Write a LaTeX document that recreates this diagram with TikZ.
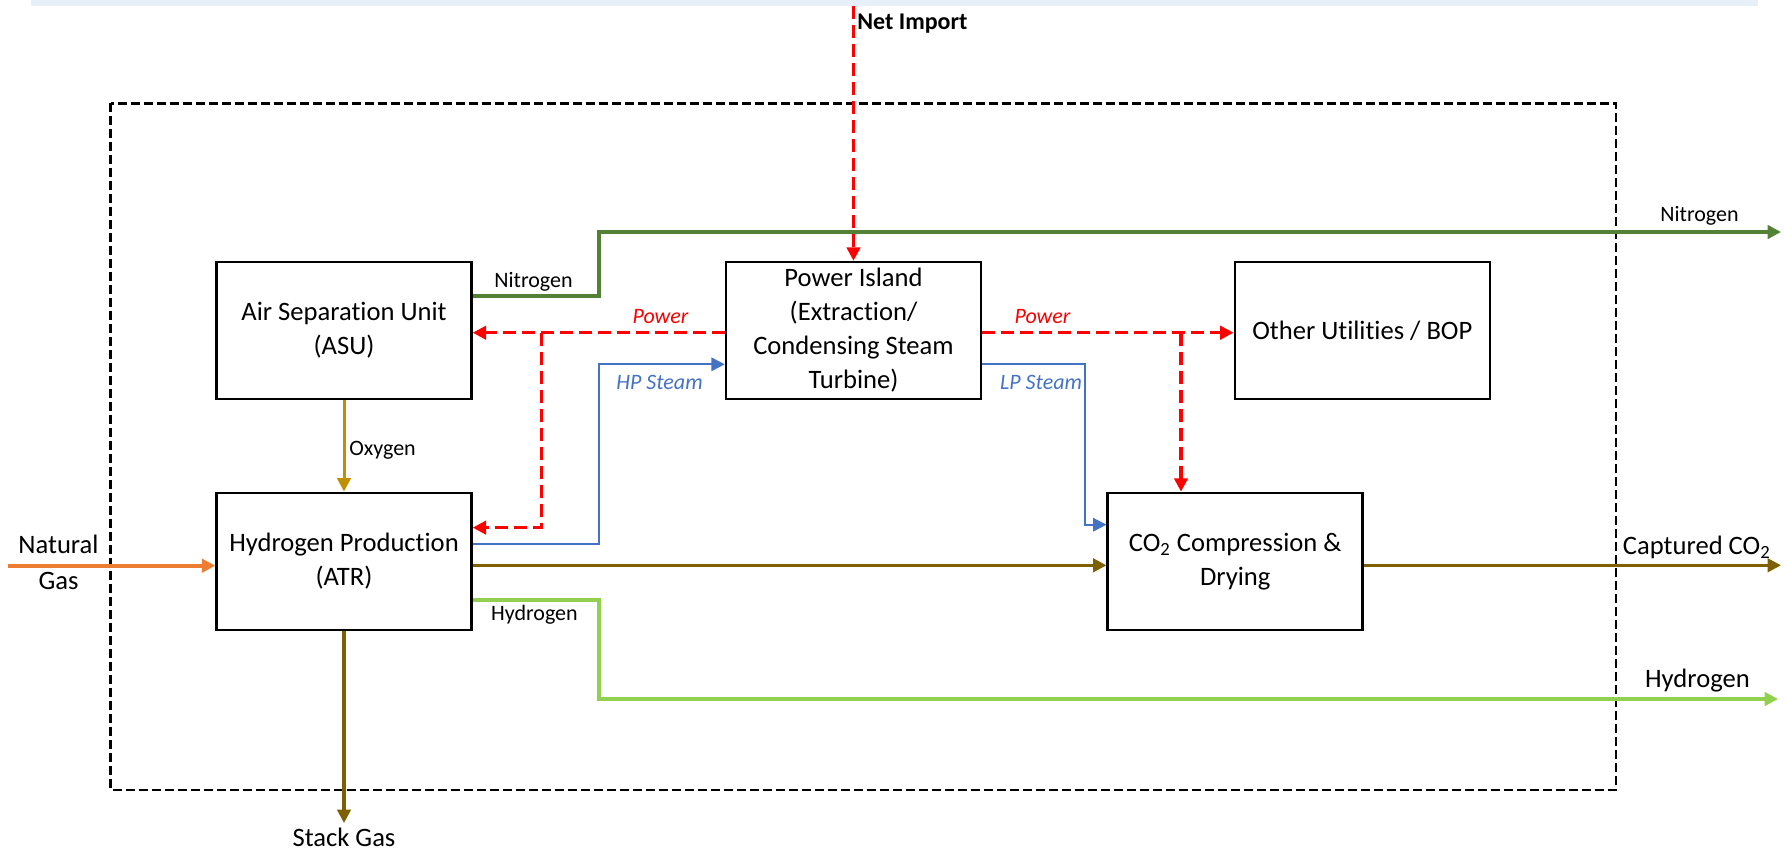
\documentclass[tikz,border=0pt]{standalone}
\usepackage{fontspec}
\setmainfont{Carlito}[Ligatures=NoCommon]
\usetikzlibrary{arrows.meta}
\definecolor{ngreen}{HTML}{548235}
\definecolor{oxcol}{HTML}{BF9000}
\definecolor{ngcol}{HTML}{ED7D31}
\definecolor{cocol}{HTML}{7F6000}
\definecolor{hcol}{HTML}{92D050}
\definecolor{stcol}{HTML}{4472C4}
\definecolor{pwcol}{HTML}{FF0000}
\definecolor{bandcol}{HTML}{E7EFF9}
\tikzset{
  unitbox/.style={draw=black, line width=1.25pt, minimum width=127.5pt, minimum height=68.5pt,
    inner sep=0pt, align=center, font=\fontsize{13.3}{17}\selectfont},
  tipA/.style={-{Triangle[length=6.7pt,width=6.7pt]}},
  nitro/.style={tipA, draw=ngreen, line width=1.75pt},
  oxy/.style={tipA, draw=oxcol, line width=1.5pt},
  natgas/.style={tipA, draw=ngcol, line width=2.2pt},
  cotwo/.style={tipA, draw=cocol, line width=1.6pt},
  hydro/.style={tipA, draw=hcol, line width=1.8pt},
  steam/.style={tipA, draw=stcol, line width=1pt},
  power/.style={tipA, draw=pwcol, line width=1.6pt, dash pattern=on 6.5pt off 3pt},
  boundary/.style={draw=black, line width=1.2pt, dash pattern=on 4.5pt off 2pt},
  smalllbl/.style={font=\fontsize{11}{13}\selectfont, inner sep=0pt},
  biglbl/.style={font=\fontsize{13.3}{16}\selectfont, inner sep=0pt},
}
\begin{document}
\begin{tikzpicture}[x=0.5pt,y=-0.5pt]
\useasboundingbox (0,0) rectangle (1787,851);
\fill[bandcol] (31,0) rectangle (1758,5.7);
\draw[boundary] (110.5,103.3) rectangle (1616.2,790);

% units
\node[unitbox] (asu) at (344,330.5) {Air Separation Unit\\(ASU)};
\node[unitbox] (pi) at (853.5,330.5) {Power Island\\(Extraction/\\Condensing Steam\\Turbine)};
\node[unitbox] (bop) at (1362.3,330.5) {Other Utilities / BOP};
\node[unitbox] (atr) at (344,561.3) {Hydrogen Production\\(ATR)};
\node[unitbox] (co2) at (1235.2,561.4) {CO\textsubscript{2} Compression \&\\Drying};

% free ends
\coordinate (netin) at (853.5,6);
\coordinate (n2out) at (1781,232);
\coordinate (coout) at (1781,565.3);
\coordinate (h2out) at (1778,699);
\coordinate (ngin) at (8,565.7);
\coordinate (stack) at (344,823);

% nitrogen
\draw[nitro] (asu.east |- 0,296) -- (599,296) -- (599,232) -- (n2out);
% oxygen
\draw[oxy] (asu.south) -- (atr.north);
% natural gas
\draw[natgas] (ngin) -- (atr.west |- ngin);
% CO2 stream
\draw[cotwo] (atr.east |- 0,565.3) -- (co2.west |- 0,565.3);
\draw[cotwo] (co2.east |- coout) -- (coout);
\draw[cotwo] (atr.south) -- (stack);
% hydrogen
\draw[hydro] (atr.east |- 0,599.8) -- (599,599.8) -- (599,699) -- (h2out);
% steam
\draw[steam] (atr.east |- 0,544.3) -- (599,544.3) -- (599,364.3) -- (pi.west |- 0,364.3);
\draw[steam] (pi.east |- 0,364.3) -- (1085,364.3) -- (1085,524.7) -- (co2.west |- 0,524.7);
% power
\draw[power] (netin) -- (pi.north);
\draw[power] (pi.west |- 0,332.7) -- (asu.east |- 0,332.7);
\draw[power] (541.5,332.7) -- (541.5,527.6) -- (atr.east |- 0,527.6);
\draw[power] (pi.east |- 0,332.7) -- (bop.west |- 0,332.7);
\draw[power] (1181,332.7) -- (co2.north -| 1181,0);

% labels
\node[smalllbl, anchor=base] (lnit) at (533.5,287) {Nitrogen};
\node[smalllbl, anchor=base, text=pwcol, font=\fontsize{11}{13}\selectfont\itshape] (lpw1) at (660.5,323.3) {Power};
\node[smalllbl, anchor=base, text=pwcol, font=\fontsize{11}{13}\selectfont\itshape] (lpw2) at (1042.5,323.3) {Power};
\node[smalllbl, anchor=base, text=stcol, font=\fontsize{11}{13}\selectfont\itshape] (lhp) at (659.5,389.3) {HP Steam};
\node[smalllbl, anchor=base, text=stcol, font=\fontsize{11}{13}\selectfont\itshape] (llp) at (1041,389.3) {LP Steam};
\node[smalllbl, anchor=base west] (lox) at (349,455.3) {Oxygen};
\node[smalllbl, anchor=base west] (lh2s) at (490.7,620) {Hydrogen};
\node[smalllbl, anchor=base west, font=\fontsize{12}{14}\selectfont\bfseries] (lnet) at (857,29.3) {Net Import};
\node[smalllbl, anchor=base west] (lnit2) at (1660,221.7) {Nitrogen};
\node[biglbl, anchor=base west] (lco) at (1622.5,554.3) {Captured CO\textsubscript{2}};
\node[biglbl, anchor=base west] (lh2) at (1644.7,687.7) {Hydrogen};
\node[biglbl, anchor=base] (lng1) at (58.5,553.3) {Natural};
\node[biglbl, anchor=base] (lng2) at (58.5,589.3) {Gas};
\node[biglbl, anchor=base] (lstack) at (344,846) {Stack Gas};
\end{tikzpicture}
\end{document}
